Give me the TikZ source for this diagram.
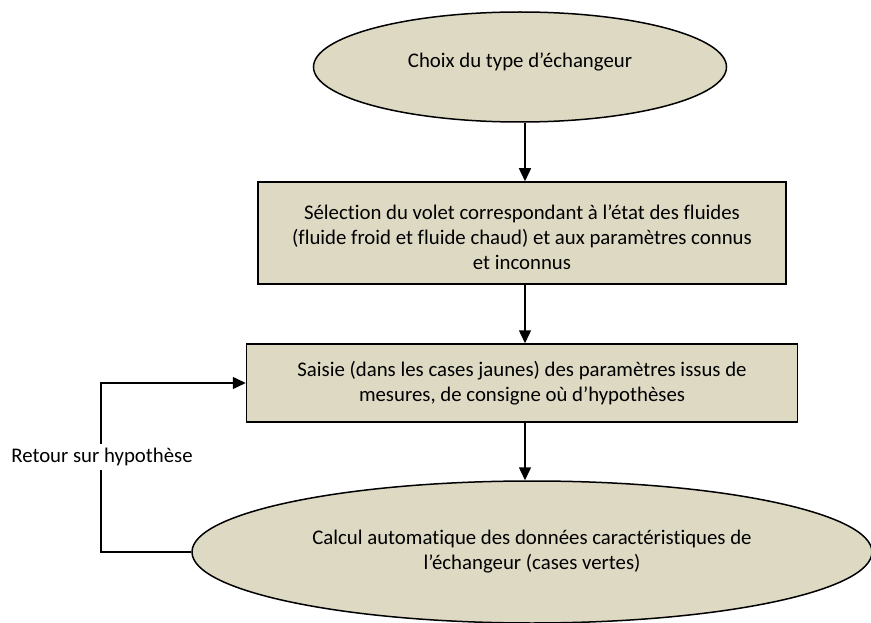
\documentclass[tikz,border=0pt]{standalone}
\usepackage{fontspec}
\setmainfont{Carlito}[Ligatures=NoCommon]
\usetikzlibrary{shapes.geometric,arrows.meta}
\definecolor{fondbeige}{RGB}{221,217,195}

\begin{document}
\begin{tikzpicture}[x=1pt,y=-1pt,
  font=\fontsize{20.8}{25}\selectfont,
  bloc/.style={draw, line width=1.5pt, fill=fondbeige, align=center, inner sep=0pt},
  fleche/.style={line width=1.5pt, -{Triangle[length=13pt,width=12pt]}}]
  \useasboundingbox (0,0) rectangle (871,623);

  \node[bloc, ellipse, minimum width=413, minimum height=110] (choix) at (520,67) {Choix du type d’échangeur\\[-11pt]};
  \node[bloc, minimum width=528, minimum height=102] (selection) at (522,233)
    {\mbox{}\\[-2pt]Sélection du volet correspondant à l’état des fluides\\(fluide froid et fluide chaud) et aux paramètres connus\\et inconnus};
  \node[bloc, minimum width=551, minimum height=78] (saisie) at (522,383)
    {Saisie (dans les cases jaunes) des paramètres issus de\\mesures, de consigne où d’hypothèses};
  \node[bloc, ellipse, minimum width=680, minimum height=142] (calcul) at (532,552)
    {Calcul automatique des données caractéristiques de\\l’échangeur (cases vertes)};

  \draw[fleche] (choix.south -| 525,0) -- (selection.north -| 525,0);
  \draw[fleche] (selection.south -| 525,0) -- (saisie.north -| 525,0);
  \draw[fleche] (saisie.south -| 525,0) -- (calcul.north -| 525,0);
  \draw[fleche] (calcul.west) -- (101,552) |- (saisie.west);
  \node[fill=white, inner sep=4pt] (retour) at (102,457) {Retour sur hypothèse};
\end{tikzpicture}
\end{document}
